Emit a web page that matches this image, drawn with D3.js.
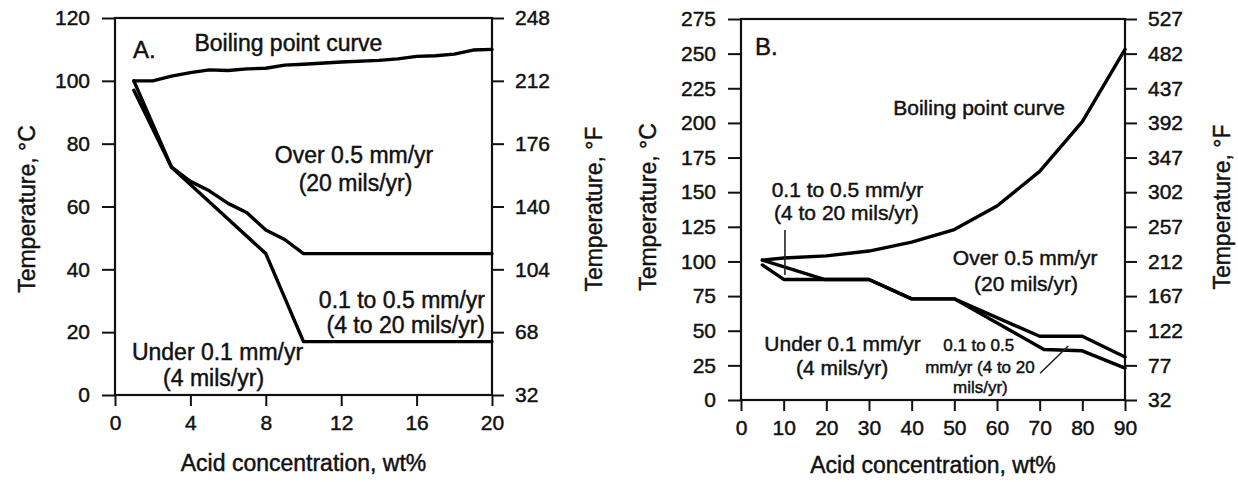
<!DOCTYPE html>
<html>
<head>
<meta charset="utf-8">
<script src="https://cdn.jsdelivr.net/npm/d3@7"></script>
<style>
  html, body { margin: 0; padding: 0; background: #fff; }
  svg { display: block; }
  text { font-family: "Liberation Sans", Arial, sans-serif; fill: #111; stroke: #111; stroke-width: 0.45px; }
</style>
</head>
<body>
<svg id="chart" width="1238" height="482"></svg>
<script>
// ---- Panel A: dilute acid, 0–20 wt% ----
const xTicksA = [0, 4, 8, 12, 16, 20];
const cTicksA = [0, 20, 40, 60, 80, 100, 120];
const fTicksA = [32, 68, 104, 140, 176, 212, 248];
const boilingA = [[1, 100], [2, 100], [3, 101.5], [4, 102.6], [5, 103.5], [6, 103.3], [7, 103.8],
  [8, 104], [9, 105], [10, 105.3], [12, 106], [14, 106.5], [15, 107], [16, 107.8],
  [17, 108], [18, 108.5], [19, 109.8], [20, 110]];
const over05A = [[1, 100], [3, 72.5], [4, 68], [5, 65], [6, 61], [7, 58], [8, 52.5],
  [9, 49.5], [10, 45], [20, 45]];
const under01A = [[1, 97], [3, 72.5], [8, 45], [10, 17], [20, 17]];

// ---- Panel B: concentrated acid, 0–90 wt% ----
const xTicksB = [0, 10, 20, 30, 40, 50, 60, 70, 80, 90];
const cTicksB = [0, 25, 50, 75, 100, 125, 150, 175, 200, 225, 250, 275];
const fTicksB = [32, 77, 122, 167, 212, 257, 302, 347, 392, 437, 482, 527];
const boilingB = [[5, 101], [10, 102.5], [20, 104], [30, 107.5], [40, 114], [50, 123],
  [60, 140], [70, 165], [80, 201], [90, 253]];
const over05B = [[5, 101], [19.5, 87], [30, 87], [40, 73], [50, 73], [70, 46],
  [80, 46], [90, 31]];
const under01B = [[5, 97.5], [10, 87], [30, 87], [40, 73], [50, 73], [71, 36.5],
  [80, 35.5], [90, 23]];
const leadersB = [
  [[10.3, 122.7], [10.3, 90.3]],
  [[70.1, 19.3], [76.7, 39]]
];

// Annotation text: [text, x, y, anchor, size]
const notesA = [
  ["A.", 0.95, 107.3, "start", 24],
  ["Boiling point curve", 9.2, 109.5, "middle", 23],
  ["Over 0.5 mm/yr", 12.68, 73.8, "middle", 23],
  ["(20 mils/yr)", 12.76, 64.9, "middle", 23],
  ["0.1 to 0.5 mm/yr", 19.63, 27.7, "end", 23],
  ["(4 to 20 mils/yr)", 19.63, 19.7, "end", 23],
  ["Under 0.1 mm/yr", 5.44, 11.1, "middle", 23],
  ["(4 mils/yr)", 5.23, 2.9, "middle", 23]
];
const notesB = [
  ["B.", 3.3, 249, "start", 24],
  ["Boiling point curve", 55.8, 205.8, "middle", 21],
  ["0.1 to 0.5 mm/yr", 24.96, 146.2, "middle", 21],
  ["(4 to 20 mils/yr)", 24.7, 129.6, "middle", 21],
  ["Over 0.5 mm/yr", 66.6, 97.1, "middle", 21],
  ["(20 mils/yr)", 66.8, 79, "middle", 21],
  ["Under 0.1 mm/yr", 23.8, 35.7, "middle", 21],
  ["(4 mils/yr)", 23.7, 17.7, "middle", 21],
  ["0.1 to 0.5", 55.7, 35.4, "middle", 17],
  ["mm/yr (4 to 20", 56, 19.5, "middle", 17],
  ["mils/yr)", 56.1, 5.1, "middle", 17]
];

const svg = d3.select("#chart");

function drawPanel(cfg) {
  const { left, right, top, bottom } = cfg.box;
  const x = d3.scaleLinear().domain(cfg.xDomain).range([left, right]);
  const y = d3.scaleLinear().domain(cfg.cDomain).range([bottom, top]);
  const yF = d3.scaleLinear().domain(cfg.fDomain).range([bottom, top]);
  const g = svg.append("g");

  const styleAxis = sel => {
    sel.select(".domain").remove();
    sel.selectAll(".tick line").attr("stroke", "#111").attr("stroke-width", 2);
    sel.selectAll(".tick text").attr("font-size", 21).attr("fill", "#111")
      .attr("font-family", "Liberation Sans, Arial, sans-serif");
  };

  g.append("g").attr("transform", `translate(${left},0)`)
    .call(d3.axisLeft(y).tickValues(cfg.cTicks).tickSize(13).tickPadding(12).tickFormat(d3.format("d")))
    .call(styleAxis);
  g.append("g").attr("transform", `translate(${right},0)`)
    .call(d3.axisRight(yF).tickValues(cfg.fTicks).tickSize(12).tickPadding(11).tickFormat(d3.format("d")))
    .call(styleAxis);
  g.append("g").attr("transform", `translate(0,${bottom})`)
    .call(d3.axisBottom(x).tickValues(cfg.xTicks).tickSize(11).tickPadding(9).tickFormat(d3.format("d")))
    .call(styleAxis);

  // plot frame
  g.append("rect")
    .attr("x", left).attr("y", top)
    .attr("width", right - left).attr("height", bottom - top)
    .attr("fill", "none").attr("stroke", "#111").attr("stroke-width", 2.2);

  const line = d3.line().x(d => x(d[0])).y(d => y(d[1]));
  [cfg.boiling, cfg.over, cfg.under].forEach(s => {
    g.append("path").attr("d", line(s))
      .attr("fill", "none").attr("stroke", "#000")
      .attr("stroke-width", 3.4).attr("stroke-linejoin", "round").attr("stroke-linecap", "round");
  });
  (cfg.leaders || []).forEach(s => {
    g.append("path").attr("d", line(s))
      .attr("fill", "none").attr("stroke", "#222").attr("stroke-width", 1.6);
  });

  cfg.notes.forEach(([t, nx, ny, anchor, size]) => {
    g.append("text").attr("x", x(nx)).attr("y", y(ny))
      .attr("text-anchor", anchor).attr("font-size", size).text(t);
  });

  // axis titles
  g.append("text")
    .attr("x", (left + right) / 2).attr("y", cfg.xTitleY)
    .attr("text-anchor", "middle").attr("font-size", 23)
    .text("Acid concentration, wt%");
  g.append("text")
    .attr("transform", `translate(${cfg.cTitleX},${cfg.titleMidY}) rotate(-90)`)
    .attr("text-anchor", "middle").attr("font-size", 23)
    .text("Temperature, °C");
  g.append("text")
    .attr("transform", `translate(${cfg.fTitleX},${cfg.titleMidY}) rotate(-90)`)
    .attr("text-anchor", "middle").attr("font-size", 23)
    .text("Temperature, °F");
}

drawPanel({
  box: { left: 115, right: 492, top: 18, bottom: 395 },
  xDomain: [0, 20], cDomain: [0, 120], fDomain: [32, 248],
  xTicks: xTicksA, cTicks: cTicksA, fTicks: fTicksA,
  boiling: boilingA, over: over05A, under: under01A,
  notes: notesA,
  xTitleY: 471, cTitleX: 35, fTitleX: 602, titleMidY: 209
});

drawPanel({
  box: { left: 741, right: 1125, top: 19, bottom: 400 },
  xDomain: [0, 90], cDomain: [0, 275], fDomain: [32, 527],
  xTicks: xTicksB, cTicks: cTicksB, fTicks: fTicksB,
  boiling: boilingB, over: over05B, under: under01B, leaders: leadersB,
  notes: notesB,
  xTitleY: 473, cTitleX: 656, fTitleX: 1230, titleMidY: 207
});
</script>
</body>
</html>
